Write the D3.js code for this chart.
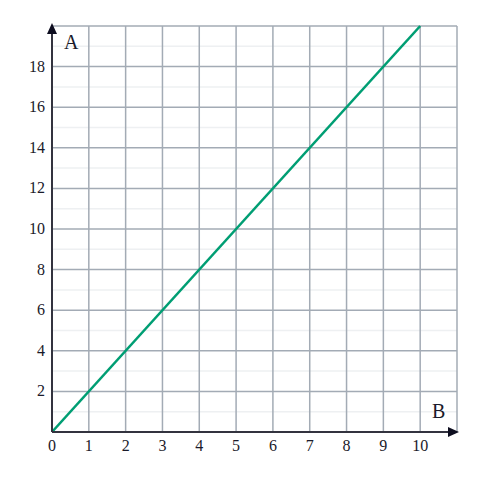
<!DOCTYPE html>
<html><head><meta charset="utf-8">
<script src="https://cdn.jsdelivr.net/npm/d3@7"></script>
<style>body{margin:0;background:#fff}svg{display:block}</style>
</head><body>
<svg id="c" width="477" height="480"></svg>
<script>
const xTicks = [0,1,2,3,4,5,6,7,8,9,10];
const yTicks = [2,4,6,8,10,12,14,16,18];
const yMinor = [1,3,5,7,9,11,13,15,17,19];
const lineB = [0,10];
const lineA = [0,20];
const xLabel = "B", yLabel = "A";

const svg = d3.select("#c");
const x = d3.scaleLinear().domain([0,11]).range([52,457]);
const y = d3.scaleLinear().domain([0,20]).range([432,26]);
const font = "'Liberation Serif','DejaVu Serif',serif";

svg.append("g").selectAll("line").data(yMinor).join("line")
  .attr("x1",x(0)).attr("x2",x(11)).attr("y1",d=>y(d)).attr("y2",d=>y(d))
  .attr("stroke","#eef0f2").attr("stroke-width",1.5);
svg.append("g").selectAll("line").data(yTicks.concat([20])).join("line")
  .attr("x1",x(0)).attr("x2",x(11)).attr("y1",d=>y(d)).attr("y2",d=>y(d))
  .attr("stroke","#a3abb5").attr("stroke-width",1.5);
svg.append("g").selectAll("line").data(xTicks.slice(1).concat([11])).join("line")
  .attr("y1",y(0)).attr("y2",y(20)).attr("x1",d=>x(d)).attr("x2",d=>x(d))
  .attr("stroke","#a3abb5").attr("stroke-width",1.5);

svg.append("path").datum(lineB.map((b,i)=>[b,lineA[i]]))
  .attr("d",d3.line().x(d=>x(d[0])).y(d=>y(d[1])))
  .attr("fill","none").attr("stroke","#009e73").attr("stroke-width",2.6);

const ax = "#33333f";
svg.append("line").attr("x1",x(0)).attr("x2",x(11)-4).attr("y1",y(0)).attr("y2",y(0)).attr("stroke",ax).attr("stroke-width",2);
svg.append("line").attr("x1",x(0)).attr("x2",x(0)).attr("y1",y(0)).attr("y2",y(20)+4).attr("stroke",ax).attr("stroke-width",2);
svg.append("path").attr("d",`M${x(11)+2},${y(0)} l-11,-5 l0,10 z`).attr("fill","#0d0d1f");
svg.append("path").attr("d",`M${x(0)},${y(20)-3} l-5,11 l10,0 z`).attr("fill","#0d0d1f");

svg.append("g").selectAll("text").data(yTicks).join("text")
  .attr("x",x(0)-7).attr("y",d=>y(d)+5).attr("text-anchor","end")
  .attr("font-family",font).attr("font-size",16).attr("fill","#1a1a2a").text(d=>d);
svg.append("g").selectAll("text").data(xTicks).join("text")
  .attr("x",d=>x(d)).attr("y",y(0)+19).attr("text-anchor","middle")
  .attr("font-family",font).attr("font-size",16).attr("fill","#1a1a2a").text(d=>d);

svg.append("text").attr("x",64).attr("y",49).attr("font-family",font).attr("font-size",20).attr("fill","#1a1a2a").text(yLabel);
svg.append("text").attr("x",432).attr("y",418).attr("font-family",font).attr("font-size",20).attr("fill","#1a1a2a").text(xLabel);
</script>
</body></html>
